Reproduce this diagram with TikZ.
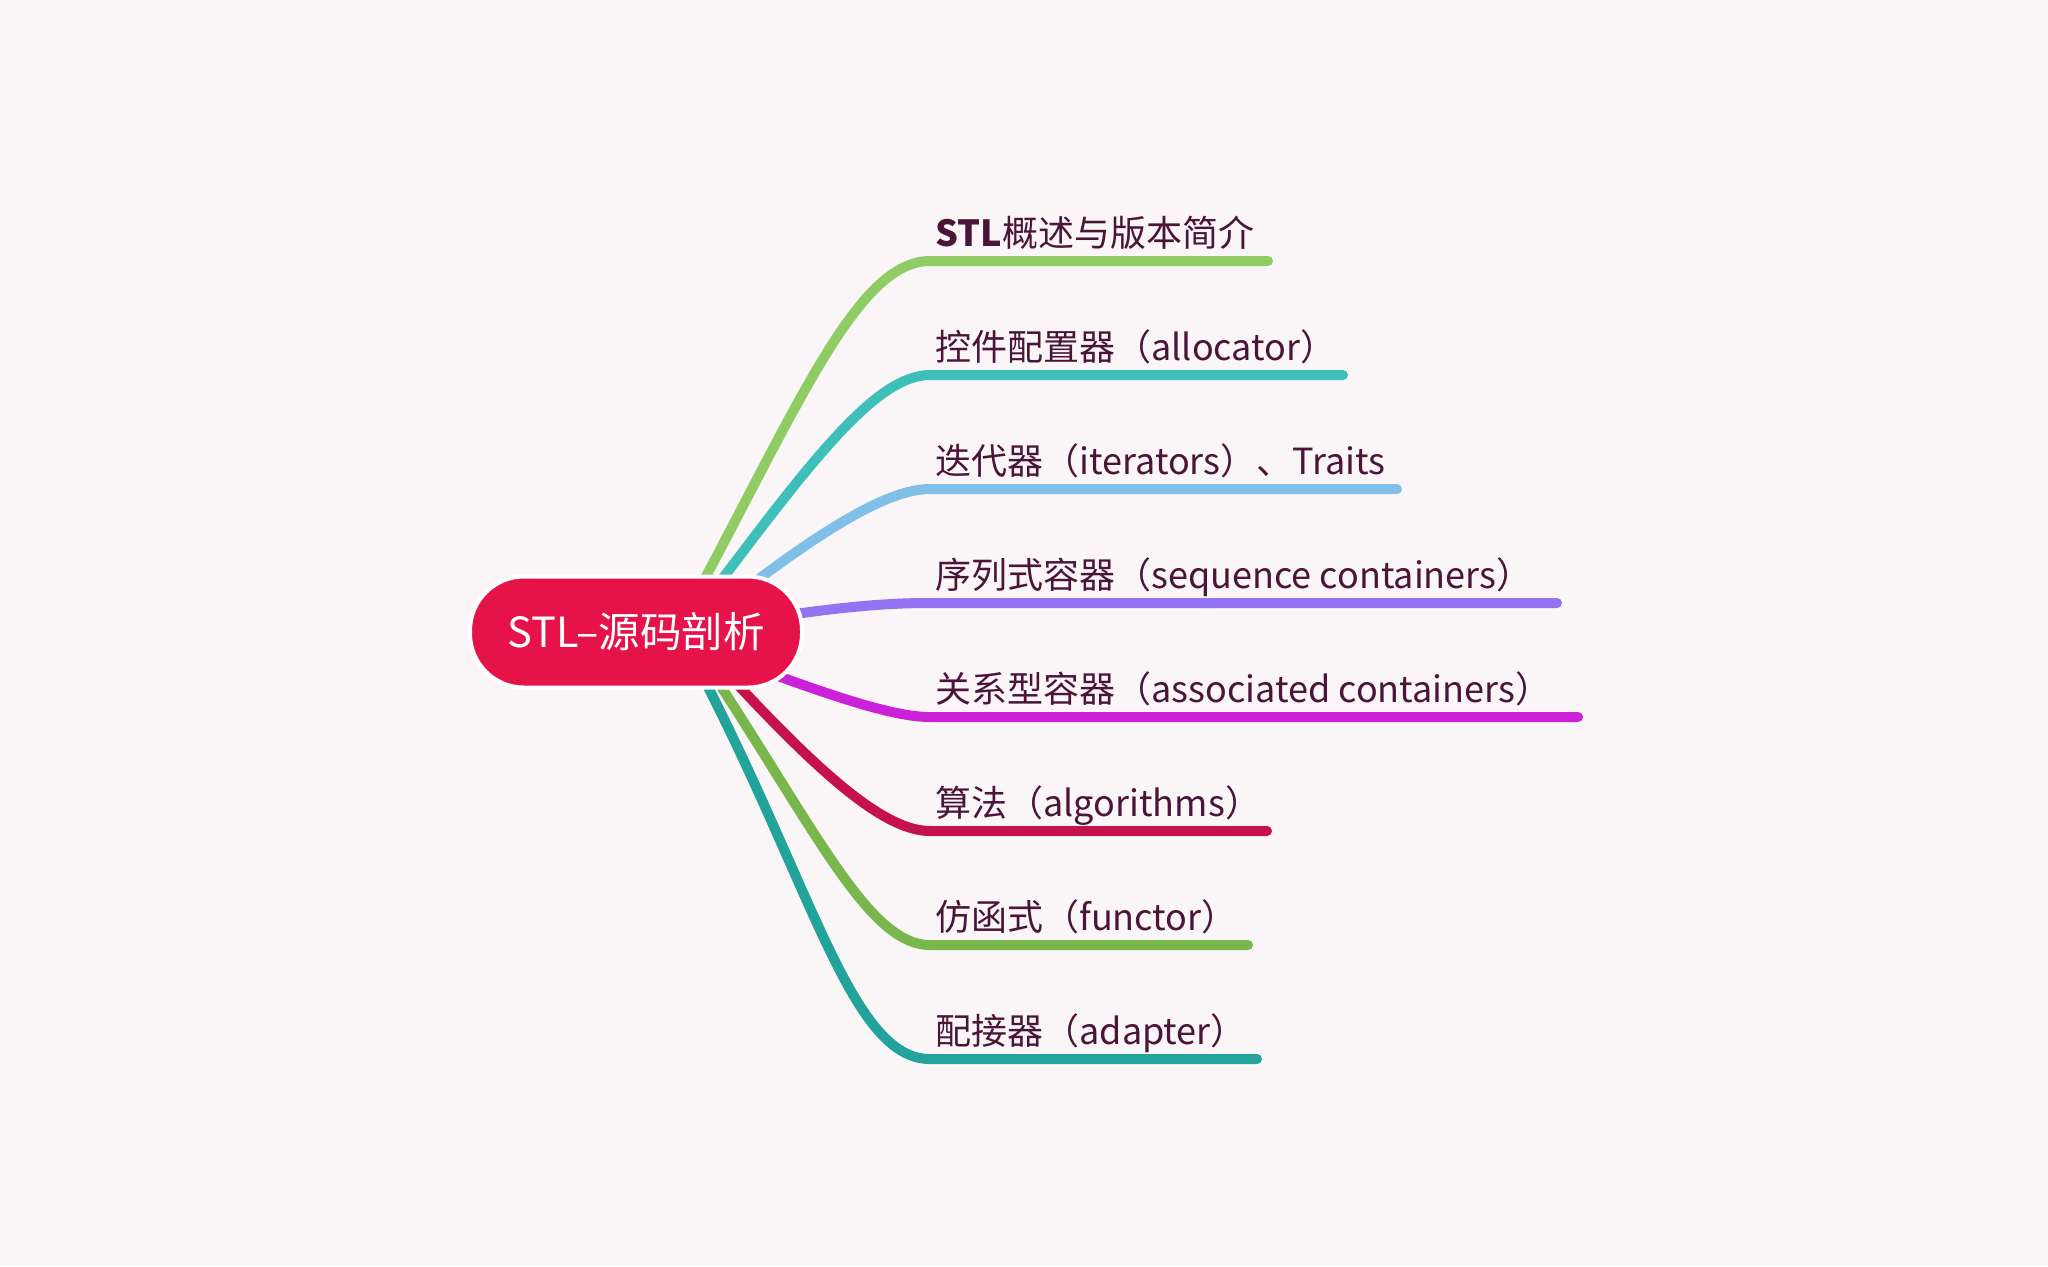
\documentclass[tikz,border=0pt]{standalone}
\usepackage{fontspec}
\setmainfont{Noto Sans CJK SC}
\usetikzlibrary{calc}

\definecolor{bgpaper}{HTML}{FAF6F7}
\definecolor{rootred}{HTML}{E6124A}
\definecolor{topictext}{HTML}{4B1538}
\definecolor{brA}{HTML}{8FCD64}
\definecolor{brB}{HTML}{3EBFB9}
\definecolor{brC}{HTML}{80C0E8}
\definecolor{brD}{HTML}{9473F2}
\definecolor{brE}{HTML}{CB22D9}
\definecolor{brF}{HTML}{C5124D}
\definecolor{brG}{HTML}{79B74C}
\definecolor{brH}{HTML}{22A39C}

\pgfdeclarelayer{background}
\pgfsetlayers{background,main}

\begin{document}
\begin{tikzpicture}[x=0.5pt, y=-0.5pt,
  every node/.style={inner sep=0pt},
  root/.style={fill=rootred, draw=white, line width=2pt, rounded corners=27pt, minimum width=166pt, minimum height=55.5pt, text=white, font=\fontsize{20.8}{20.8}\selectfont},
  topic/.style={anchor=base west, text=topictext, font=\fontsize{18}{18}\selectfont},
  branch/.style={line width=5pt, line cap=round, out looseness=1.4, in looseness=0.45}]
\node[root] (M0) at (636,632) {STL–源码剖析};
\node[topic] (M1) at (935,246) {{\bfseries STL}概述与版本简介};
\node[topic] (M2) at (935,360) {控件配置器（allocator）};
\node[topic] (M3) at (935,474) {迭代器（iterators）、Traits};
\node[topic] (M4) at (935,588) {序列式容器（sequence containers）};
\node[topic] (M5) at (935,702) {关系型容器（associated containers）};
\node[topic] (M6) at (935,816) {算法（algorithms）};
\node[topic] (M7) at (935,930) {仿函式（functor）};
\node[topic] (M8) at (935,1044) {配接器（adapter）};
% underline ends
\coordinate (S1) at (930,261); \coordinate (E1) at (1268,261);
\coordinate (S2) at (930,375); \coordinate (E2) at (1343,375);
\coordinate (S3) at (930,489); \coordinate (E3) at (1397,489);
\coordinate (S4) at (930,603); \coordinate (E4) at (1557,603);
\coordinate (S5) at (930,717); \coordinate (E5) at (1578,717);
\coordinate (S6) at (930,831); \coordinate (E6) at (1267,831);
\coordinate (S7) at (930,945); \coordinate (E7) at (1248,945);
\coordinate (S8) at (930,1059); \coordinate (E8) at (1257,1059);
\begin{pgfonlayer}{background}
\fill[bgpaper] (0,0) rectangle (2048,1266);
\draw[branch, brA] ($(M0.center)+(67,-50)$) to[out=62, in=180] (S1) -- (E1);
\draw[branch, brB] ($(M0.center)+(84,-50)$) to[out=53, in=180] (S2) -- (E2);
\draw[branch, brC] ($(M0.center)+(116,-48)$) to[out=37, in=180] (S3) -- (E3);
\draw[branch, brD] ($(M0.center)+(159,-18)$) to[out=8, in=180] (S4) -- (E4);
\draw[branch, brE] ($(M0.center)+(142,44)$) to[out=-20, in=180] (S5) -- (E5);
\draw[branch, brF] ($(M0.center)+(102,53)$) to[out=-47, in=180] (S6) -- (E6);
\draw[branch, brG] ($(M0.center)+(84,53)$) to[out=-57, in=180] (S7) -- (E7);
\draw[branch, brH] ($(M0.center)+(71,53)$) to[out=-63, in=180] (S8) -- (E8);
\end{pgfonlayer}
\end{tikzpicture}
\end{document}
